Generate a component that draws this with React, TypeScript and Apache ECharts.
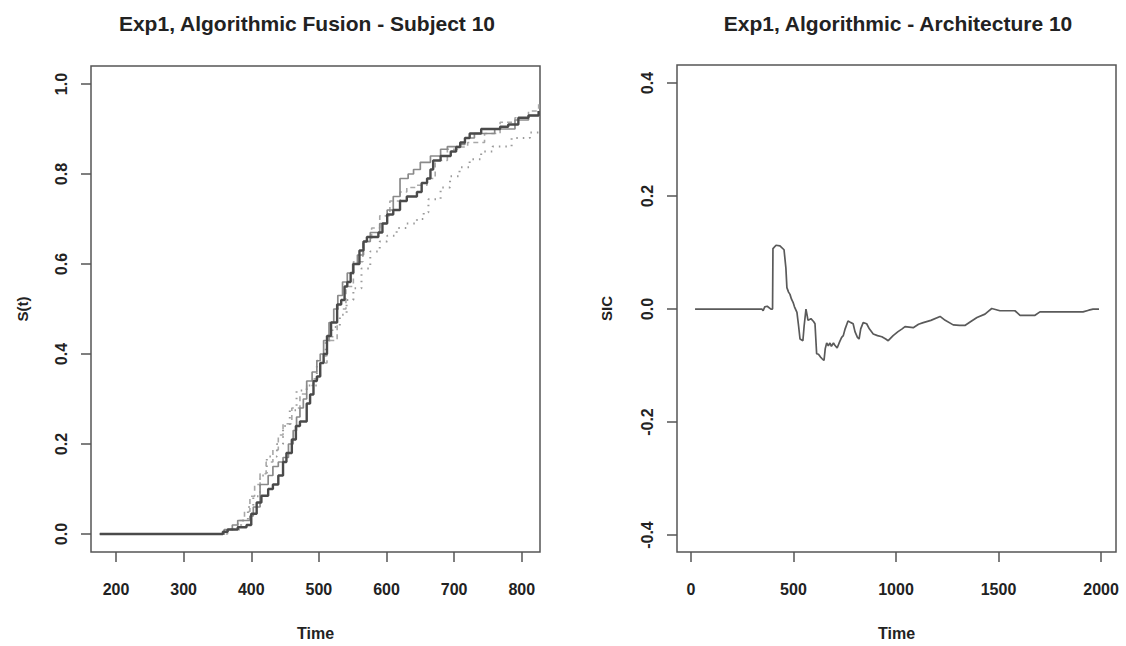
import React, { useEffect, useRef } from "react";
import * as echarts from "echarts";

// ---------- Left panel: survivor-type step curves ----------
const leftTitle = "Exp1, Algorithmic Fusion - Subject 10";
const rightTitle = "Exp1, Algorithmic - Architecture 10";
const leftXTicks = [200, 300, 400, 500, 600, 700, 800];
const leftYTicks = [0, 0.2, 0.4, 0.6, 0.8, 1.0];
const rightXTicks = [0, 500, 1000, 1500, 2000];
const rightYTicks = [-0.4, -0.2, 0, 0.2, 0.4];

const darkSolid: [number, number][] = [
  [176, 0], [350, 0], [358, 0.005], [365, 0.01], [380, 0.015], [393, 0.02], [400, 0.045],
  [408, 0.07], [415, 0.085], [425, 0.1], [432, 0.11], [440, 0.13], [447, 0.16], [452, 0.18],
  [460, 0.21], [466, 0.24], [472, 0.25], [482, 0.29], [487, 0.31], [492, 0.34], [497, 0.35],
  [502, 0.38], [507, 0.4], [512, 0.44], [518, 0.47], [527, 0.51], [533, 0.52], [538, 0.55],
  [542, 0.56], [547, 0.58], [551, 0.6], [560, 0.63], [566, 0.65], [571, 0.66], [588, 0.67],
  [594, 0.69], [601, 0.71], [610, 0.72], [620, 0.74], [630, 0.75], [645, 0.76], [652, 0.78],
  [660, 0.79], [665, 0.81], [669, 0.83], [680, 0.84], [695, 0.85], [703, 0.86], [709, 0.87],
  [716, 0.88], [723, 0.89], [740, 0.9], [768, 0.905], [780, 0.91], [795, 0.925], [810, 0.93],
  [825, 0.94],
];

const lightSolid: [number, number][] = [
  [176, 0], [352, 0], [360, 0.01], [372, 0.02], [380, 0.03], [398, 0.04], [403, 0.06],
  [413, 0.11], [425, 0.13], [432, 0.15], [440, 0.16], [447, 0.17], [455, 0.2], [462, 0.23],
  [467, 0.26], [472, 0.28], [477, 0.3], [482, 0.34], [490, 0.36], [497, 0.385], [502, 0.4],
  [507, 0.43], [515, 0.47], [522, 0.5], [528, 0.53], [535, 0.56], [542, 0.58], [550, 0.6],
  [557, 0.62], [566, 0.65], [576, 0.67], [590, 0.69], [601, 0.72], [610, 0.75], [620, 0.79],
  [632, 0.8], [640, 0.81], [650, 0.826], [665, 0.84], [680, 0.855], [690, 0.861], [709, 0.866],
  [716, 0.88], [730, 0.89], [760, 0.9], [790, 0.92], [810, 0.93], [825, 0.94],
];

const dashedCurve: [number, number][] = [
  [176, 0], [350, 0], [365, 0.01], [380, 0.03], [390, 0.05], [398, 0.084], [405, 0.11],
  [413, 0.134], [422, 0.16], [432, 0.187], [440, 0.22], [447, 0.245], [460, 0.28], [472, 0.311],
  [482, 0.33], [492, 0.345], [502, 0.38], [512, 0.43], [527, 0.5], [540, 0.55], [551, 0.605],
  [565, 0.65], [578, 0.68], [590, 0.707], [605, 0.74], [620, 0.76], [630, 0.77], [645, 0.775],
  [660, 0.79], [672, 0.83], [690, 0.855], [705, 0.86], [720, 0.87], [745, 0.89], [768, 0.915],
  [790, 0.925], [810, 0.94], [825, 0.955],
];

const dottedCurve: [number, number][] = [
  [176, 0], [350, 0], [365, 0.01], [385, 0.03], [395, 0.06], [403, 0.084], [413, 0.13],
  [423, 0.172], [438, 0.2], [447, 0.24], [457, 0.275], [467, 0.319], [482, 0.33], [497, 0.385],
  [510, 0.43], [520, 0.46], [531, 0.487], [541, 0.52], [551, 0.546], [563, 0.59], [576, 0.628],
  [590, 0.65], [601, 0.663], [615, 0.68], [630, 0.69], [645, 0.7], [655, 0.715], [662, 0.744],
  [680, 0.77], [694, 0.795], [708, 0.815], [723, 0.833], [740, 0.85], [757, 0.861], [785, 0.88],
  [812, 0.892], [825, 0.9],
];

// ---------- Right panel: SIC ----------
const sicCurve: [number, number][] = [
  [20, 0], [346, 0], [352, -0.003], [360, 0.004], [372, 0.005], [390, 0.0], [398, 0.0],
  [400, 0.107], [415, 0.113], [434, 0.112], [454, 0.105], [463, 0.073], [468, 0.038],
  [476, 0.03], [483, 0.026], [490, 0.018], [498, 0.012], [505, 0.004], [517, -0.006],
  [525, -0.03], [532, -0.053], [546, -0.056], [552, -0.03], [561, 0.0], [566, -0.01],
  [571, -0.02], [585, -0.017], [598, -0.022], [605, -0.026], [613, -0.079], [622, -0.08],
  [632, -0.085], [640, -0.088], [649, -0.091], [655, -0.07], [662, -0.06], [670, -0.065],
  [678, -0.06], [685, -0.066], [695, -0.06], [702, -0.064], [713, -0.069], [725, -0.058],
  [735, -0.05], [743, -0.047], [752, -0.035], [766, -0.021], [780, -0.024], [791, -0.026],
  [800, -0.04], [812, -0.05], [820, -0.053], [828, -0.035], [840, -0.024], [857, -0.026],
  [870, -0.035], [889, -0.044], [910, -0.047], [931, -0.049], [950, -0.053], [962, -0.056],
  [986, -0.047], [1010, -0.04], [1030, -0.035], [1044, -0.031], [1084, -0.033], [1110, -0.027],
  [1133, -0.024], [1170, -0.02], [1215, -0.013], [1240, -0.02], [1279, -0.028], [1310, -0.029],
  [1336, -0.029], [1365, -0.022], [1395, -0.015], [1434, -0.009], [1450, -0.004], [1467, 0.001],
  [1507, -0.003], [1580, -0.003], [1605, -0.011], [1678, -0.011], [1702, -0.005],
  [1912, -0.005], [1940, -0.002], [1961, 0.0], [1990, 0.0],
];

const FONT = "'Liberation Sans', Arial, sans-serif";
const TEXT = "#222";
const AXIS = "#555";

export default function App() {
  const ref = useRef<HTMLDivElement>(null);
  useEffect(() => {
    if (!ref.current) return;
    const chart = echarts.init(ref.current, undefined, { renderer: "svg" });
    const labelStyle = {
      color: TEXT,
      fontFamily: FONT,
      fontWeight: "bold" as const,
      fontSize: 16,
    };
    const xAxisBase = (gridIndex: number, min: number, max: number, ticks: number[]) => ({
      type: "value" as const,
      gridIndex,
      position: "bottom" as const,
      min,
      max,
      name: "Time",
      nameLocation: "middle" as const,
      nameGap: 73,
      nameTextStyle: { ...labelStyle, fontSize: 16 },
      axisLine: { show: false, onZero: false },
      axisTick: {
        show: true,
        inside: false,
        length: 10,
        customValues: ticks,
        lineStyle: { color: AXIS, width: 1.5 },
      },
      axisLabel: {
        ...labelStyle,
        margin: 29,
        customValues: ticks,
        formatter: (v: number) => String(v),
      },
      splitLine: { show: false },
    });
    const yAxisBase = (
      gridIndex: number,
      min: number,
      max: number,
      ticks: number[],
      name: string,
      nameGap: number
    ) => ({
      type: "value" as const,
      gridIndex,
      position: "left" as const,
      min,
      max,
      name,
      nameLocation: "middle" as const,
      nameGap,
      nameRotate: 90,
      nameTextStyle: { ...labelStyle, fontSize: 15 },
      axisLine: { show: false, onZero: false },
      axisTick: {
        show: true,
        inside: false,
        length: 10,
        customValues: ticks,
        lineStyle: { color: AXIS, width: 1.5 },
      },
      axisLabel: {
        ...labelStyle,
        rotate: 90,
        margin: 22,
        customValues: ticks,
        formatter: (v: number) => v.toFixed(1),
      },
      splitLine: { show: false },
    });

    const stepSeries = (
      data: [number, number][],
      color: string,
      width: number,
      type: any
    ) => ({
      type: "line" as const,
      xAxisIndex: 0,
      yAxisIndex: 0,
      data,
      step: "end" as const,
      showSymbol: false,
      symbol: "none",
      lineStyle: { color, width, type },
      silent: true,
    });

    const titleStyle = { color: TEXT, fontFamily: FONT, fontWeight: "bold" as const, fontSize: 21 };

    chart.setOption({
      animation: false,
      backgroundColor: "#fff",
      title: [
        { text: leftTitle, left: 302, top: 8, textAlign: "center", textStyle: titleStyle },
        { text: rightTitle, left: 893, top: 8, textAlign: "center", textStyle: titleStyle },
      ],
      grid: [
        {
          left: 91,
          top: 66,
          width: 449,
          height: 488,
          show: true,
          borderColor: AXIS,
          borderWidth: 1.5,
          backgroundColor: "transparent",
        },
        {
          left: 677,
          top: 65,
          width: 439,
          height: 489,
          show: true,
          borderColor: AXIS,
          borderWidth: 1.5,
          backgroundColor: "transparent",
        },
      ],
      xAxis: [
        xAxisBase(0, 163, 827, leftXTicks),
        xAxisBase(1, -68, 2073, rightXTicks),
      ],
      yAxis: [
        yAxisBase(0, -0.04, 1.04, leftYTicks, "S(t)", 61),
        yAxisBase(1, -0.43, 0.432, rightYTicks, "SIC", 63),
      ],
      series: [
        stepSeries(dottedCurve, "#9a9a9a", 2, [1.5, 5]),
        stepSeries(dashedCurve, "#a8a8a8", 1.6, [5, 4]),
        stepSeries(lightSolid, "#8a8a8a", 1.7, "solid"),
        stepSeries(darkSolid, "#4a4a4a", 2.4, "solid"),
        {
          type: "line",
          xAxisIndex: 1,
          yAxisIndex: 1,
          data: sicCurve,
          showSymbol: false,
          symbol: "none",
          lineStyle: { color: "#5a5a5a", width: 1.7 },
          silent: true,
        },
      ],
    });
    return () => chart.dispose();
  }, []);
  return (
    <div
      ref={ref}
      style={{ position: "fixed", left: 0, top: 0, width: 1126, height: 646 }}
    />
  );
}
